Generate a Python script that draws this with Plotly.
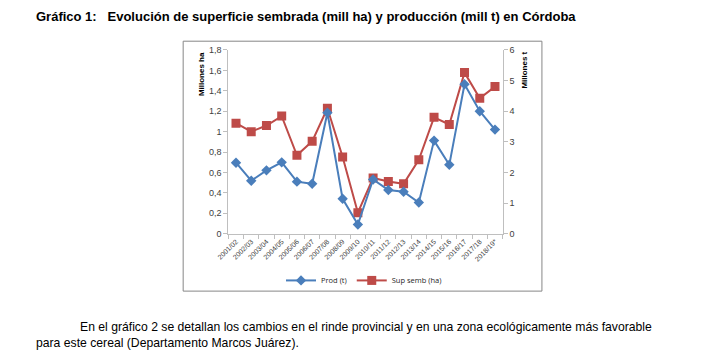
import plotly.graph_objects as go

W, H = 702, 363
OFF = 8  # page body margin in the browser

campanas = ["2001/02", "2002/03", "2003/04", "2004/05", "2005/06", "2006/07", "2007/08",
            "2008/09", "2009/10", "2010/11", "2011/12", "2012/13", "2013/14", "2014/15",
            "2015/16", "2016/17", "2017/18", "2018/19*"]
# Producción (millones t) - eje derecho
prod_mill_t = [2.32, 1.73, 2.07, 2.33, 1.70, 1.63, 3.95, 1.14, 0.30, 1.77,
               1.43, 1.37, 1.02, 3.04, 2.25, 4.88, 4.00, 3.40]
# Superficie sembrada (millones ha) - eje izquierdo
sup_mill_ha = [1.083, 1.00, 1.06, 1.152, 0.768, 0.905, 1.229, 0.752, 0.206, 0.546,
               0.511, 0.489, 0.724, 1.14, 1.07, 1.578, 1.327, 1.441]

left_ticks = [0, 0.2, 0.4, 0.6, 0.8, 1.0, 1.2, 1.4, 1.6, 1.8]
left_labels = ["0", "0,2", "0,4", "0,6", "0,8", "1", "1,2", "1,4", "1,6", "1,8"]
right_ticks = [0, 1, 2, 3, 4, 5, 6]


def px(x):
    return (x - OFF) / W


def py(y):
    return (H - (y - OFF)) / H


fig = go.Figure()
fig.add_trace(go.Scatter(
    x=campanas, y=prod_mill_t, name="Prod (t)", yaxis="y2",
    mode="lines+markers",
    line=dict(color="#4a7ebb", width=2),
    marker=dict(symbol="diamond", size=8, color="#4a7ebb"),
))
fig.add_trace(go.Scatter(
    x=campanas, y=sup_mill_ha, name="Sup semb (ha)", yaxis="y",
    mode="lines+markers",
    line=dict(color="#be4b48", width=2),
    marker=dict(symbol="square", size=9, color="#be4b48"),
))

axis_font = dict(family="Liberation Sans, Arial, sans-serif", size=9, color="#404040")

fig.update_layout(
    width=W, height=H, autosize=False,
    margin=dict(l=0, r=0, t=0, b=0),
    paper_bgcolor="white", plot_bgcolor="white",
    showlegend=True,
    legend=dict(orientation="h", x=px(358), y=py(283), xanchor="center", yanchor="middle",
                font=dict(family="Open Sans, Liberation Sans, sans-serif", size=7.5, color="#262626"),
                itemwidth=30, traceorder="normal", bgcolor="rgba(0,0,0,0)"),
    xaxis=dict(domain=[px(220), px(499)], type="category", range=[-0.5, 17.5],
               showline=True, linecolor="#bfbfbf", linewidth=1,
               ticks="outside", tickson="boundaries", ticklen=4, tickcolor="#bfbfbf",
               tickangle=-45, tickfont=dict(family="Liberation Sans, Arial, sans-serif", size=7, color="#404040"),
               showgrid=False, zeroline=False, anchor="y", fixedrange=True),
    yaxis=dict(domain=[py(235), py(46)], range=[0, 1.8],
               tickvals=left_ticks, ticktext=left_labels,
               showline=True, linecolor="#bfbfbf", linewidth=1,
               ticks="outside", ticklen=4, tickcolor="#bfbfbf",
               tickfont=axis_font, showgrid=False, zeroline=False, anchor="x"),
    yaxis2=dict(domain=[py(235), py(46)], range=[0, 6], overlaying="y", side="right",
                tickvals=right_ticks,
                showline=True, linecolor="#bfbfbf", linewidth=1,
                ticks="outside", ticklen=4, tickcolor="#bfbfbf",
                tickfont=axis_font, showgrid=False, zeroline=False, anchor="x"),
    shapes=[dict(type="rect", xref="paper", yref="paper",
                 x0=px(174), x1=px(539), y0=py(294), y1=py(37),
                 line=dict(color="#868686", width=1), fillcolor="rgba(0,0,0,0)", layer="below")],
    annotations=[
        dict(text="<b>Gráfico 1:   Evolución de superficie sembrada (mill ha) y producción (mill t) en Córdoba</b>",
             x=px(22), y=py(12), xref="paper", yref="paper", xanchor="left", yanchor="middle",
             showarrow=False, font=dict(family="Liberation Sans Narrow, Arial Narrow, sans-serif", size=13, color="black")),
        dict(text="<b>Millones ha</b>", textangle=-90, x=px(192), y=py(71), xref="paper", yref="paper",
             xanchor="center", yanchor="middle", showarrow=False,
             font=dict(family="Liberation Sans, Arial, sans-serif", size=8, color="black")),
        dict(text="<b>Millones t</b>", textangle=-90, x=px(521), y=py(67), xref="paper", yref="paper",
             xanchor="center", yanchor="middle", showarrow=False,
             font=dict(family="Liberation Sans, Arial, sans-serif", size=8, color="black")),
        dict(text="En el gráfico 2 se detallan los cambios en el rinde provincial y en una zona ecológicamente más favorable",
             x=px(67), y=py(331), xref="paper", yref="paper", xanchor="left", yanchor="middle",
             showarrow=False, font=dict(family="Liberation Sans, Arial, sans-serif", size=12.2, color="black")),
        dict(text="para este cereal (Departamento Marcos Juárez).",
             x=px(22), y=py(347), xref="paper", yref="paper", xanchor="left", yanchor="middle",
             showarrow=False, font=dict(family="Liberation Sans, Arial, sans-serif", size=12.2, color="black")),
    ],
)

fig.write_html("out.html")
